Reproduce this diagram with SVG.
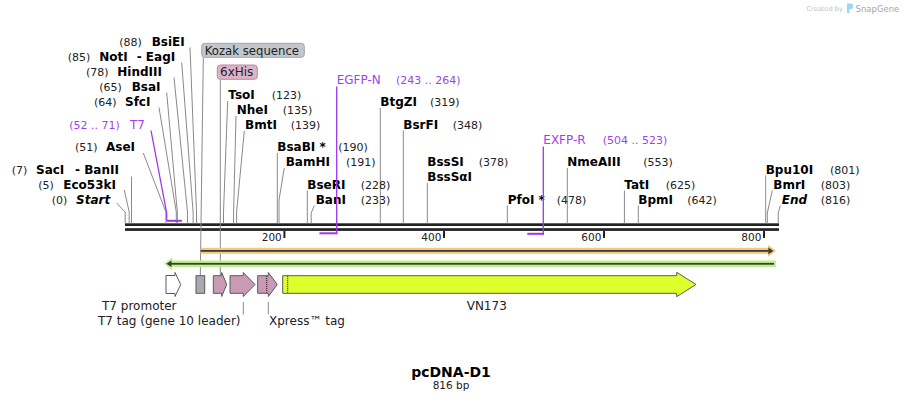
<svg xmlns="http://www.w3.org/2000/svg" width="904" height="403" viewBox="0 0 904 403">
<style>
text{font-family:"DejaVu Sans","Liberation Sans",sans-serif}
.n{font-size:11px;fill:#222}
.e{font-size:12px;font-weight:bold;fill:#000}
.ei{font-size:12px;font-weight:bold;font-style:italic;fill:#000}
.pn{font-size:12px;fill:#9f3ff0}
.pp{font-size:11px;fill:#9f3ff0}
.f{font-size:12px;fill:#222}
.cl{fill:none;stroke:#8a8a8a;stroke-width:1}
.pl{fill:none;stroke:#9f35f0;stroke-width:1.3}
.pb{fill:#9f35f0}
.ft{stroke:#5a5a5a;stroke-width:1}
.pink{fill:#c99ab4}
.tk{fill:#222}
.tl{font-size:10.5px;fill:#222;text-anchor:end}
</style>
<rect width="904" height="403" fill="#fff"/>

<g id="credit">
<text x="806.5" y="10.5" style="font-size:6.6px;fill:#c4c4c4">Created by</text>
<path d="M847 3.5 h3.5 a2.8 2.8 0 0 1 0 5.6 h-1 v3.8 h-2.5 z" fill="#9fd6f2"/>
<text x="855.5" y="12" style="font-size:8.5px;fill:#a6a6a6">SnapGene</text>
</g>

<g id="backbone">
<rect x="125" y="223.3" width="654" height="2.7" fill="#222"/>
<rect x="125" y="228.2" width="654" height="2.7" fill="#222"/>
<rect class="tk" x="283.4" y="231" width="2" height="7"/>
<rect class="tk" x="443" y="231" width="2" height="7"/>
<rect class="tk" x="603" y="231" width="2" height="7"/>
<rect class="tk" x="763" y="231" width="2" height="7"/>
<text class="tl" x="281.8" y="241">200</text>
<text class="tl" x="441.4" y="241">400</text>
<text class="tl" x="601.4" y="241">600</text>
<text class="tl" x="761.4" y="241">800</text>
</g>

<g id="connectors">
<polyline class="cl" points="116.5,203 125.2,212 125.2,223.3"/>
<polyline class="cl" points="124.3,190 129.2,212 129.2,223.3"/>
<polyline class="cl" points="131.5,176.5 131.5,223.3"/>
<polyline class="cl" points="143.3,153 165.9,212 165.9,223.3"/>
<polyline class="cl" points="159,107.5 176.3,212 176.3,223.3"/>
<polyline class="cl" points="166.7,92.5 177.3,212 177.3,223.3"/>
<polyline class="cl" points="174,77.5 187.5,212 187.5,223.3"/>
<polyline class="cl" points="181.7,62.5 193.1,212 193.1,223.3"/>
<polyline class="cl" points="190,47.5 196.5,212 196.5,223.3"/>
<polyline class="cl" points="203.3,57.3 200.3,275.7"/>
<polyline class="cl" points="220.3,79.3 220.3,275.7"/>
<polyline class="cl" points="227.7,101 223.5,212 223.5,223.3"/>
<polyline class="cl" points="236,116 233.6,212 233.6,223.3"/>
<polyline class="cl" points="244.3,131 236.6,212 236.6,223.3"/>
<polyline class="cl" points="277.3,153 277.3,223.3"/>
<polyline class="cl" points="284.3,168 279,200 279,223.3"/>
<polyline class="cl" points="307.3,190.5 307.3,223.3"/>
<polyline class="cl" points="314.3,205.5 311.2,213 311.2,223.3"/>
<polyline class="cl" points="380.3,108 380.3,223.3"/>
<polyline class="cl" points="403.3,130.5 403.3,223.3"/>
<polyline class="cl" points="427.3,183 427.3,223.3"/>
<polyline class="cl" points="507.3,205.5 507.3,223.3"/>
<polyline class="cl" points="567.3,168 567.3,223.3"/>
<polyline class="cl" points="624.4,190.5 624.4,223.3"/>
<polyline class="cl" points="638.3,205.5 638.3,223.3"/>
<polyline class="cl" points="765.7,175.5 765.7,223.3"/>
<polyline class="cl" points="772.3,190.5 767.3,213 767.3,223.3"/>
<polyline class="cl" points="780.3,205.5 778.2,213 778.2,223.3"/>
<line class="cl" x1="243.3" y1="302" x2="243.3" y2="314.5"/>
<line class="cl" x1="268.3" y1="302" x2="268.3" y2="314.5"/>
</g>

<g id="enz-left">
<text class="n" x="119.3" y="46">(88)</text><text class="e" x="151.7" y="46">BsiEI</text>
<text class="n" x="67.7" y="61">(85)</text><text class="e" x="99.3" y="61">NotI</text><text class="e" x="136.7" y="61">- EagI</text>
<text class="n" x="86" y="76">(78)</text><text class="e" x="117.3" y="76">HindIII</text>
<text class="n" x="99.3" y="91">(65)</text><text class="e" x="131.7" y="91">BsaI</text>
<text class="n" x="94" y="106">(64)</text><text class="e" x="125" y="106">SfcI</text>
<text class="n" x="75" y="151">(51)</text><text class="e" x="106" y="151">AseI</text>
<text class="n" x="11.7" y="174">(7)</text><text class="e" x="36" y="174">SacI</text><text class="e" x="75" y="174">- BanII</text>
<text class="n" x="38.3" y="189">(5)</text><text class="e" x="63.3" y="189">Eco53kI</text>
<text class="n" x="51.7" y="204">(0)</text><text class="ei" x="76" y="204">Start</text>
</g>

<g id="primer-T7">
<text class="pp" x="69.3" y="129">(52 .. 71)</text><text class="pn" x="130" y="129">T7</text>
<polyline class="pl" points="151,130.5 166.7,213 166.7,220.8"/>
<rect class="pb" x="166.7" y="219.8" width="15.2" height="2"/>
</g>

<g id="label-kozak">
<rect x="201.7" y="43.3" width="102.6" height="14" rx="3" fill="#c3c6ca" stroke="#a1a5aa"/>
<text class="f" x="204.7" y="54.6" style="font-size:11.7px">Kozak sequence</text>
</g>
<g id="label-6xhis">
<rect x="217.3" y="65" width="40" height="14.3" rx="3" fill="#ddb4c7" stroke="#b98aa0"/>
<text class="f" x="220" y="76.3">6xHis</text>
</g>

<g id="enz-right">
<text class="e" x="228.3" y="99">TsoI</text><text class="n" x="271.7" y="99">(123)</text>
<text class="e" x="236.7" y="114">NheI</text><text class="n" x="282.7" y="114">(135)</text>
<text class="e" x="245" y="129">BmtI</text><text class="n" x="290.7" y="129">(139)</text>
<text class="e" x="277.3" y="151">BsaBI *</text><text class="n" x="338.3" y="151">(190)</text>
<text class="e" x="285.7" y="166">BamHI</text><text class="n" x="346" y="166">(191)</text>
<text class="e" x="307.3" y="189">BseRI</text><text class="n" x="360.7" y="189">(228)</text>
<text class="e" x="315.7" y="204">BanI</text><text class="n" x="360.7" y="204">(233)</text>
<text class="e" x="380.3" y="106">BtgZI</text><text class="n" x="430" y="106">(319)</text>
<text class="e" x="403.3" y="129">BsrFI</text><text class="n" x="452.7" y="129">(348)</text>
<text class="e" x="427.3" y="166">BssSI</text><text class="n" x="478.7" y="166">(378)</text>
<text class="e" x="427.3" y="181">BssSαI</text>
<text class="e" x="507.7" y="204">PfoI *</text><text class="n" x="556.7" y="204">(478)</text>
<text class="e" x="567.3" y="166">NmeAIII</text><text class="n" x="643.3" y="166">(553)</text>
<text class="e" x="624.3" y="189">TatI</text><text class="n" x="665.7" y="189">(625)</text>
<text class="e" x="638.3" y="204">BpmI</text><text class="n" x="687.3" y="204">(642)</text>
<text class="e" x="765.7" y="174">Bpu10I</text><text class="n" x="830" y="174">(801)</text>
<text class="e" x="773.3" y="189">BmrI</text><text class="n" x="820.7" y="189">(803)</text>
<text class="ei" x="781.7" y="204">End</text><text class="n" x="820.7" y="204">(816)</text>
</g>

<g id="primer-EGFP-N">
<text class="pn" x="336.7" y="84">EGFP-N</text><text class="pp" x="396" y="84">(243 .. 264)</text>
<line class="pl" x1="336.7" y1="86.5" x2="336.7" y2="234"/>
<rect class="pb" x="319.4" y="232.3" width="18" height="2"/>
</g>
<g id="primer-EXFP-R">
<text class="pn" x="543.3" y="144">EXFP-R</text><text class="pp" x="602.7" y="144">(504 .. 523)</text>
<line class="pl" x1="543.3" y1="146.5" x2="543.3" y2="234.5"/>
<rect class="pb" x="527.3" y="232.8" width="16.7" height="2"/>
</g>

<g id="orf-forward">
<rect x="200.7" y="247.8" width="571" height="6" fill="#f7c77a"/>
<polygon points="768,244.8 776,250.8 768,256.8" fill="#f7c77a"/>
<rect x="200.7" y="250" width="568" height="1.8" fill="#3c3c3c"/>
<polygon points="768.3,247.6 773.5,250.9 768.3,254.2" fill="#3c3c3c"/>
</g>
<g id="orf-reverse">
<rect x="170" y="260.5" width="606" height="6.6" fill="#bff08e"/>
<polygon points="172,257.3 164,263.8 172,270.3" fill="#bff08e"/>
<rect x="171" y="262.9" width="603" height="1.8" fill="#3c3c3c"/>
<polygon points="171.5,260.6 166.3,263.8 171.5,267" fill="#3c3c3c"/>
</g>

<g id="feat-T7-promoter">
<polygon class="ft" fill="#fff" points="166,275.5 175,275.5 175,272.5 180.7,284.5 175,296.5 175,293.5 166,293.5"/>
<text class="f" x="176.5" y="310" text-anchor="end">T7 promoter</text>
</g>
<g id="feat-kozak">
<rect class="ft" x="196" y="275.7" width="8.7" height="17.6" fill="#a6abb2"/>
</g>
<g id="feat-6xhis">
<polygon class="ft pink" points="213.3,275.7 221.7,275.7 221.7,272.5 226.7,284.5 221.7,296.5 221.7,293.3 213.3,293.3"/>
</g>
<g id="feat-T7-tag">
<polygon class="ft pink" points="230,275.7 243.3,275.7 243.3,272.5 255,284.5 243.3,296.5 243.3,293.3 230,293.3"/>
<text class="f" x="240.5" y="325" text-anchor="end">T7 tag (gene 10 leader)</text>
</g>
<g id="feat-xpress">
<polygon class="ft pink" points="257.7,275.7 268.3,275.7 268.3,272.5 277.3,284.5 268.3,296.5 268.3,293.3 257.7,293.3"/>
<line x1="266.7" y1="276.2" x2="266.7" y2="292.8" stroke="#111" stroke-width="1" stroke-dasharray="1,1"/>
<text class="f" x="269" y="325">Xpress™ tag</text>
</g>
<g id="feat-VN173">
<polygon class="ft" fill="#dfff2c" points="282.7,275.7 676.7,275.7 676.7,272.3 696,284.5 676.7,296.7 676.7,293.3 282.7,293.3"/>
<line x1="287.7" y1="276.2" x2="287.7" y2="292.8" stroke="#111" stroke-width="1" stroke-dasharray="1,1"/>
<text class="f" x="466.7" y="310">VN173</text>
</g>

<g id="title">
<text x="451" y="377" text-anchor="middle" style="font-size:14px;font-weight:bold;fill:#000">pcDNA-D1</text>
<text x="451" y="389" text-anchor="middle" style="font-size:10.5px;fill:#222">816 bp</text>
</g>
</svg>
